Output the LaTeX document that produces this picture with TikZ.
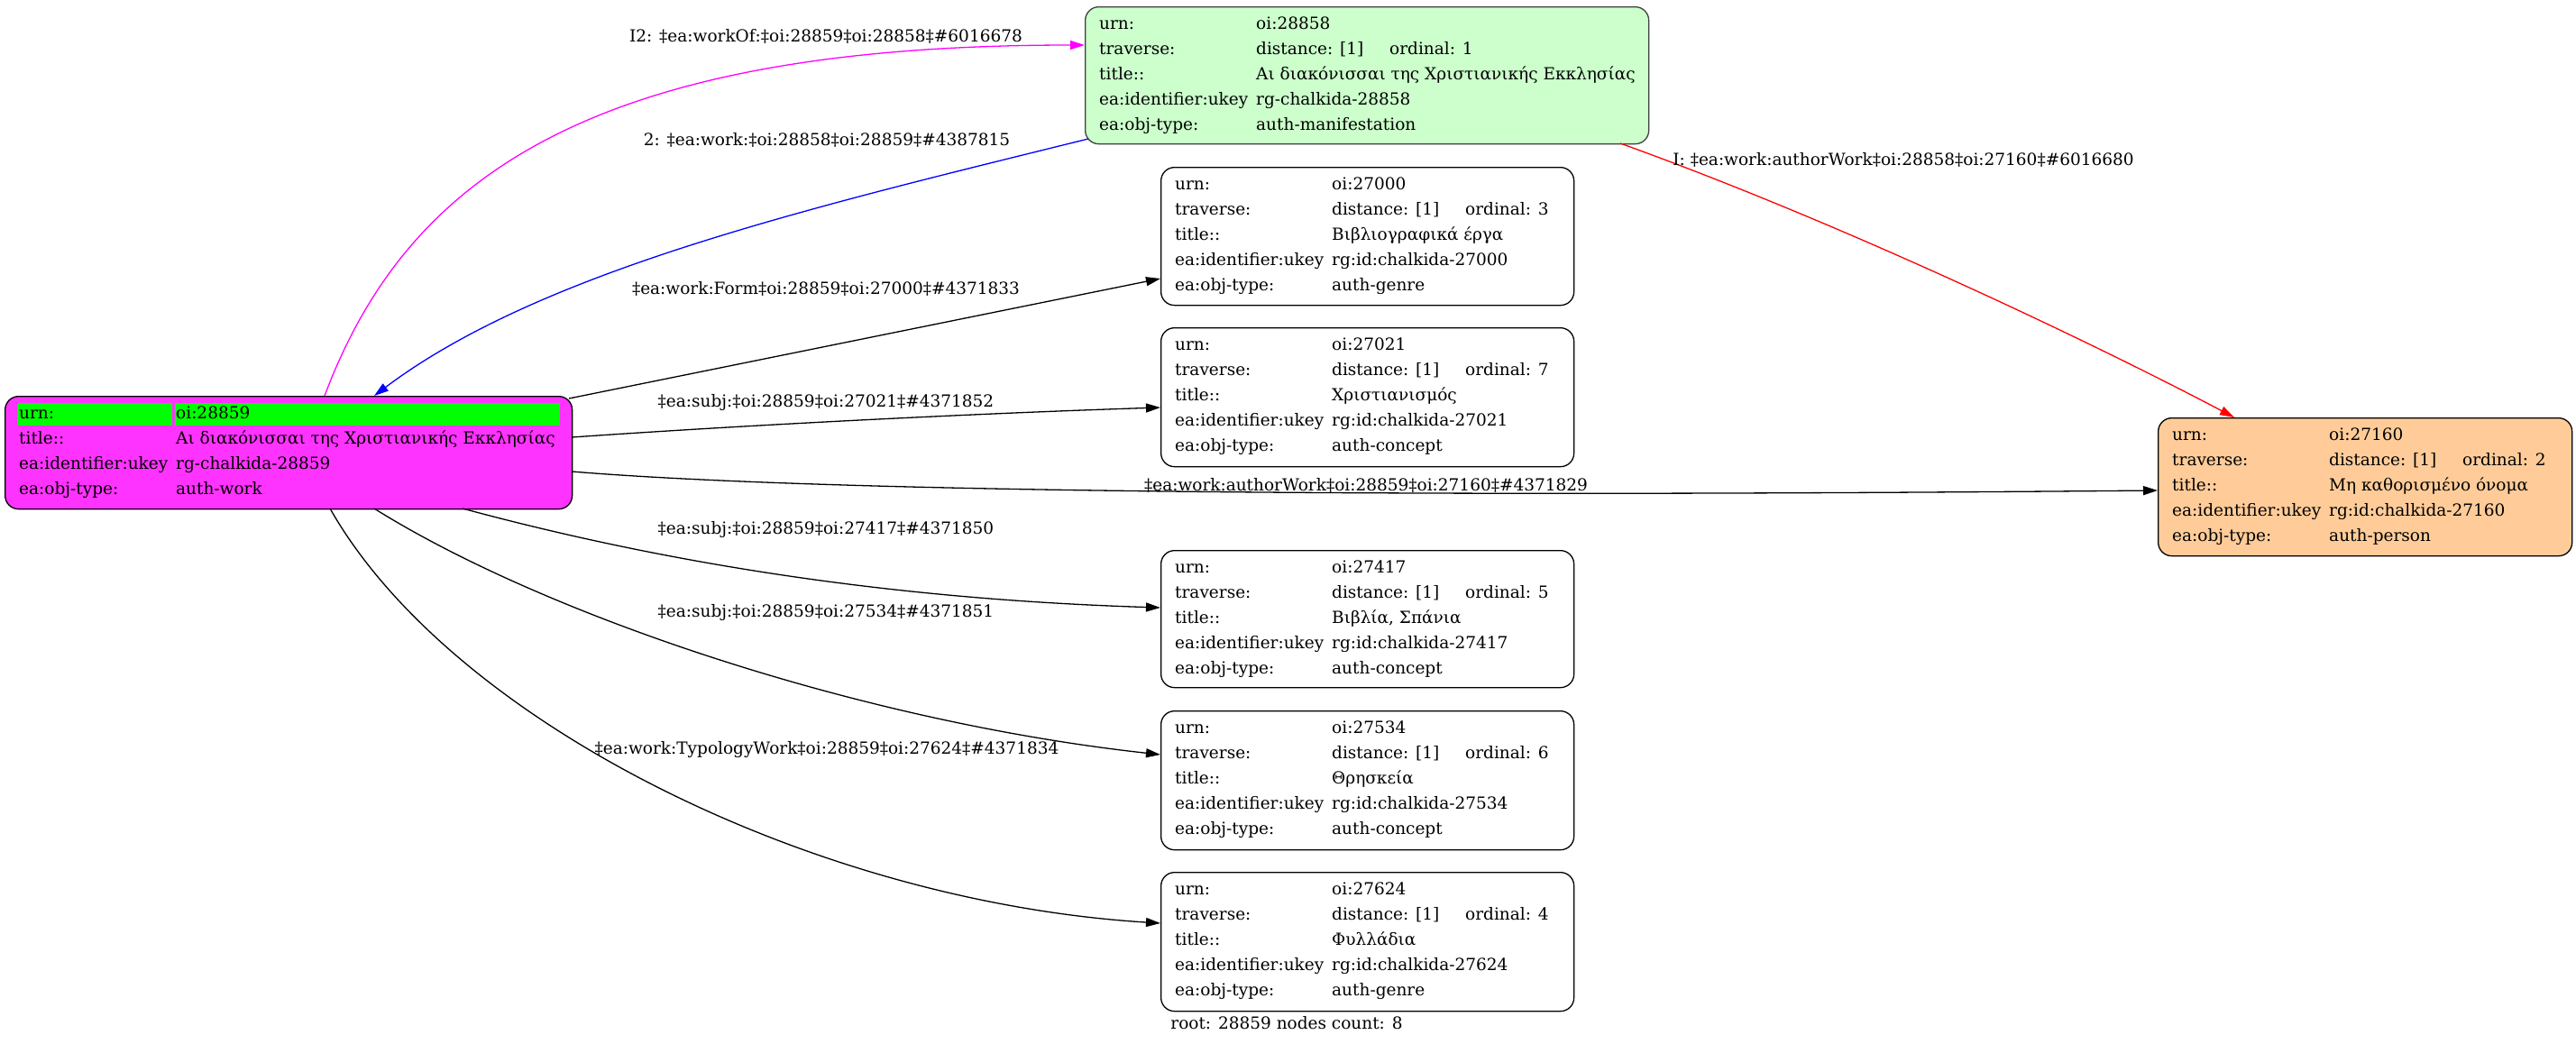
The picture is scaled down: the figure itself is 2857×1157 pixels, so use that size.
\documentclass[tikz,border=0pt]{standalone}
\usepackage{fontspec}
\setmainfont{DejaVu Serif}
\usetikzlibrary{arrows.meta}
\definecolor{mfill}{HTML}{CCFFCC}
\definecolor{wfill}{HTML}{FF33FF}
\definecolor{pfill}{HTML}{FFCC99}
\definecolor{hlgreen}{HTML}{00FF00}
\definecolor{emag}{HTML}{FF00FF}
\definecolor{eblue}{HTML}{0000FF}
\definecolor{ered}{HTML}{FF0000}
\tikzset{
  recbox/.style={draw=black,line width=1.3pt,rounded corners=15pt,inner sep=0pt},
  rectxt/.style={inner sep=0pt,font=\fontsize{18.5}{28}\selectfont},
  edge/.style={line width=1.3pt,-{Triangle[length=16pt,width=10pt]}},
  elabel/.style={inner sep=0pt,font=\fontsize{18.5}{22}\selectfont},
  hl/.style={fill=hlgreen}
}
\newcommand\recnode[6]{\node[recbox,#6,minimum width=#4pt,minimum height=#5pt,anchor=north west] (#1) at (#2,#3) {};}
\newcommand\rectext[2]{\node[rectxt,anchor=base west] (#1t) at ([shift={(16,25)}]#1.north west) {\begin{tabular}[t]{@{}p{174pt}@{}l@{}}#2\end{tabular}};}
\newcommand\fiverows[5]{urn: & #1\\ traverse: & \makebox[148pt][l]{distance: [1]}ordinal: #2\\ title:: & #3\\ ea:identifier:ukey & #4\\ ea:obj-type: & #5}
\begin{document}
\begin{tikzpicture}[x=1pt,y=-1pt]
\useasboundingbox (0,0) rectangle (2857,1157);
% nodes
\recnode{w28859}{5}{439}{629}{125}{fill=wfill}
\fill[hl] ([shift={(14,8)}]w28859.north west) rectangle ([shift={(186,33)}]w28859.north west);
\fill[hl] ([shift={(189,8)}]w28859.north west) rectangle ([shift={(616,33)}]w28859.north west);
\rectext{w28859}{urn: & oi:28859\\ title:: & Αι διακόνισσαι της Χριστιανικής Εκκλησίας\\ ea:identifier:ukey & rg-chalkida-28859\\ ea:obj-type: & auth-work}

\recnode{m28858}{1203}{7}{625}{152}{fill=mfill,draw=black!75}
\rectext{m28858}{\fiverows{oi:28858}{1}{Αι διακόνισσαι της Χριστιανικής Εκκλησίας}{rg-chalkida-28858}{auth-manifestation}}

\recnode{g27000}{1287}{185}{458}{153}{fill=white}
\rectext{g27000}{\fiverows{oi:27000}{3}{Βιβλιογραφικά έργα}{rg:id:chalkida-27000}{auth-genre}}

\recnode{c27021}{1287}{363}{458}{154}{fill=white}
\rectext{c27021}{\fiverows{oi:27021}{7}{Χριστιανισμός}{rg:id:chalkida-27021}{auth-concept}}

\recnode{p27160}{2393}{463}{459}{153}{fill=pfill}
\rectext{p27160}{\fiverows{oi:27160}{2}{Μη καθορισμένο όνομα}{rg:id:chalkida-27160}{auth-person}}

\recnode{c27417}{1287}{610}{458}{152}{fill=white}
\rectext{c27417}{\fiverows{oi:27417}{5}{Βιβλία, Σπάνια}{rg:id:chalkida-27417}{auth-concept}}

\recnode{c27534}{1287}{788}{458}{154}{fill=white}
\rectext{c27534}{\fiverows{oi:27534}{6}{Θρησκεία}{rg:id:chalkida-27534}{auth-concept}}

\recnode{g27624}{1287}{967}{458}{154}{fill=white}
\rectext{g27624}{\fiverows{oi:27624}{4}{Φυλλάδια}{rg:id:chalkida-27624}{auth-genre}}

% edges
\draw[edge,emag] ([shift={(355,0)}]w28859.north west) .. controls (450,200) and (650,50) .. ([shift={(0,43)}]m28858.north west);
\draw[edge,eblue] ([shift={(4,147)}]m28858.north west) .. controls (900,230) and (600,300) .. ([shift={(410,0)}]w28859.north west);
\draw[edge,ered] ([shift={(594,152)}]m28858.north west) .. controls (2050,250) and (2330,385) .. ([shift={(85,0)}]p27160.north west);
\draw[edge] ([shift={(626,3)}]w28859.north west) -- ([shift={(0,124)}]g27000.north west);
\draw[edge] ([shift={(629,46)}]w28859.north west) .. controls (850,470) and (1100,458) .. ([shift={(0,89)}]c27021.north west);
\draw[edge] ([shift={(629,84)}]w28859.north west) .. controls (900,545) and (1500,552) .. ([shift={(0,81)}]p27160.north west);
\draw[edge] ([shift={(508,125)}]w28859.north west) .. controls (750,628) and (1000,665) .. ([shift={(0,64)}]c27417.north west);
\draw[edge] ([shift={(410,125)}]w28859.north west) .. controls (600,680) and (950,800) .. ([shift={(0,49)}]c27534.north west);
\draw[edge] ([shift={(361,125)}]w28859.north west) .. controls (500,800) and (900,1000) .. ([shift={(0,57)}]g27624.north west);

% edge labels
\node[elabel] (l1) at (916,40) {I2: ‡ea:workOf:‡oi:28859‡oi:28858‡\#6016678};
\node[elabel] (l2) at (917,155) {2: ‡ea:work:‡oi:28858‡oi:28859‡\#4387815};
\node[elabel] (l3) at (916,320) {‡ea:work:Form‡oi:28859‡oi:27000‡\#4371833};
\node[elabel] (l4) at (916,447) {‡ea:subj:‡oi:28859‡oi:27021‡\#4371852};
\node[elabel] (l5) at (1515,538) {‡ea:work:authorWork‡oi:28859‡oi:27160‡\#4371829};
\node[elabel] (l6) at (916,588) {‡ea:subj:‡oi:28859‡oi:27417‡\#4371850};
\node[elabel] (l7) at (916,680) {‡ea:subj:‡oi:28859‡oi:27534‡\#4371851};
\node[elabel] (l8) at (917,832) {‡ea:work:TypologyWork‡oi:28859‡oi:27624‡\#4371834};
\node[elabel] (l9) at (2111,177) {I: ‡ea:work:authorWork‡oi:28858‡oi:27160‡\#6016680};
\node[rectxt] (foot) at (1427,1135) {root: 28859 nodes count: 8};
\end{tikzpicture}
\end{document}
